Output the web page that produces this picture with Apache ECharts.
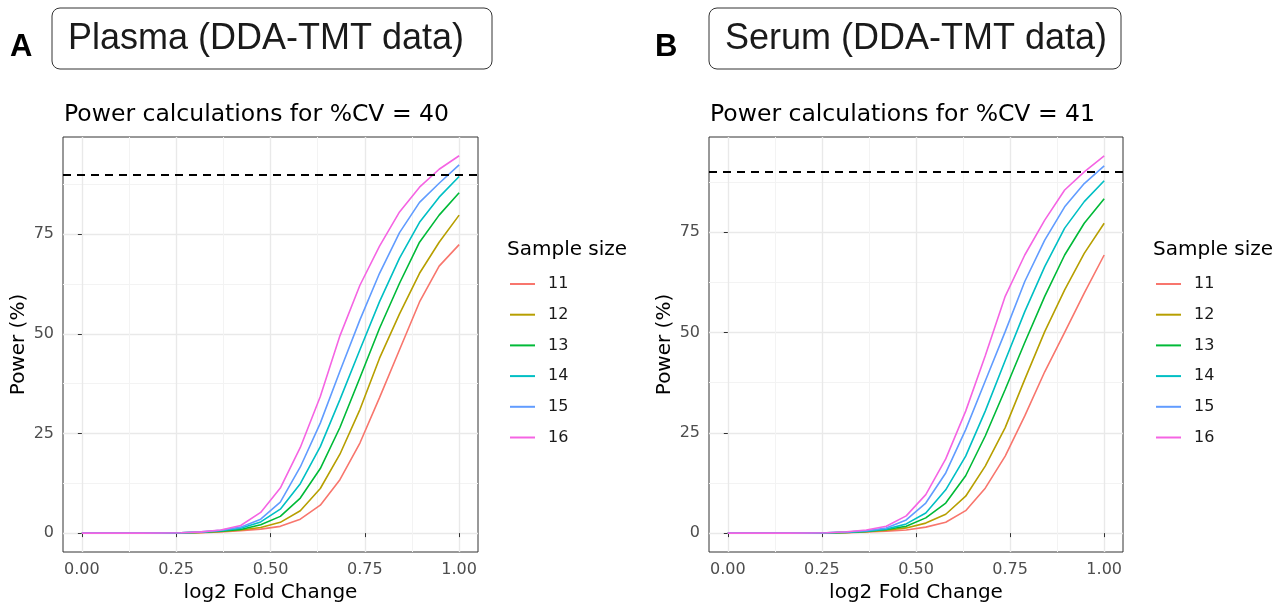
<!DOCTYPE html>
<html>
<head>
<meta charset="utf-8">
<title>Power calculations</title>
<script src="https://cdn.jsdelivr.net/npm/echarts@6/dist/echarts.min.js"></script>
<style>
html, body { margin: 0; padding: 0; background: #fff; }
#main { width: 1282px; height: 603px; }
</style>
</head>
<body>
<div id="main"></div>
<script>
/* log2 fold change values where power was computed */
var foldChange = [0, 0.053, 0.105, 0.158, 0.211, 0.263, 0.316, 0.368, 0.421, 0.474,
                  0.526, 0.579, 0.632, 0.684, 0.737, 0.789, 0.842, 0.895, 0.947, 1.0];
var sampleSizes = ["11", "12", "13", "14", "15", "16"];

/* plasma, %CV = 40 */
var plasma11 = [0, 0, 0, 0, 0, 0.05, 0.1, 0.3, 0.6, 1.0, 1.7, 3.5, 7.0, 13.4, 22.6, 34.0, 46.0, 58.0, 67.0, 72.4];
var plasma12 = [0, 0, 0, 0, 0, 0.05, 0.15, 0.4, 0.8, 1.4, 2.7, 5.6, 11.2, 19.8, 31.0, 43.9, 55.0, 65.2, 73.0, 79.8];
var plasma13 = [0, 0, 0, 0, 0, 0.05, 0.2, 0.5, 0.9, 2.1, 4.2, 8.8, 16.2, 26.5, 39.0, 51.4, 62.7, 73.0, 79.8, 85.4];
var plasma14 = [0, 0, 0, 0, 0.01, 0.1, 0.25, 0.6, 1.2, 2.8, 6.0, 12.4, 21.7, 33.5, 46.0, 58.1, 69.0, 78.0, 84.3, 89.5];
var plasma15 = [0, 0, 0, 0, 0.02, 0.1, 0.3, 0.7, 1.5, 3.5, 7.8, 16.6, 27.6, 40.6, 53.5, 65.2, 75.4, 83.0, 87.8, 92.4];
var plasma16 = [0, 0, 0, 0, 0.02, 0.1, 0.3, 0.8, 1.9, 5.2, 11.3, 21.5, 34.3, 49.5, 62.2, 72.0, 80.6, 86.8, 91.3, 94.7];

/* serum, %CV = 41 */
var serum11 = [0, 0, 0, 0, 0, 0.05, 0.1, 0.3, 0.5, 0.8, 1.5, 2.7, 5.6, 11.2, 19.2, 29.2, 40.2, 50.0, 59.8, 69.3];
var serum12 = [0, 0, 0, 0, 0, 0.05, 0.15, 0.35, 0.7, 1.3, 2.5, 4.7, 9.2, 16.7, 26.3, 38.3, 50.2, 60.6, 69.7, 77.2];
var serum13 = [0, 0, 0, 0, 0, 0.05, 0.2, 0.45, 0.9, 1.7, 3.8, 7.5, 14.3, 24.2, 35.8, 47.5, 59.0, 69.3, 77.2, 83.3];
var serum14 = [0, 0, 0, 0, 0.01, 0.1, 0.25, 0.5, 1.0, 2.3, 5.0, 10.8, 19.2, 30.4, 43.0, 55.2, 66.4, 76.0, 82.6, 87.8];
var serum15 = [0, 0, 0, 0, 0.02, 0.1, 0.3, 0.6, 1.3, 3.3, 7.5, 15.0, 25.8, 37.9, 50.2, 62.7, 73.0, 81.3, 87.1, 91.5];
var serum16 = [0, 0, 0, 0, 0.02, 0.1, 0.35, 0.8, 1.7, 4.3, 9.6, 18.5, 30.4, 44.2, 59.0, 69.3, 78.0, 85.5, 90.0, 94.0];

var xTicks = [0, 0.25, 0.5, 0.75, 1];
var xMinorTicks = [0.125, 0.375, 0.625, 0.875];
var yTicks = [0, 25, 50, 75];
var yMinorTicks = [12.5, 37.5, 62.5, 87.5];
var targetPower = 90;

var colors = ["#F8766D", "#B79F00", "#00BA38", "#00BFC4", "#619CFF", "#F564E3"];
var font = "DejaVu Sans";

function makeXAxis(grid, ticks, major) {
    return {
        type: "value", gridIndex: grid, min: -0.05, max: 1.05, position: "bottom",
        name: major ? "log2 Fold Change" : "",
        nameLocation: "middle", nameGap: 28,
        nameTextStyle: {fontFamily: font, fontSize: 20, color: "#000"},
        axisLine: {show: false},
        axisTick: {show: major, customValues: ticks, length: 4, lineStyle: {color: "#333", width: 1}},
        axisLabel: {show: major, customValues: ticks, margin: 10, color: "#4d4d4d",
            fontFamily: font, fontSize: 16,
            formatter: function (v) { return v.toFixed(2); }},
        splitLine: {show: true, lineStyle: {color: major ? "#e9e9e9" : "#f3f3f3", width: major ? 1.4 : 1}}
    };
}
function makeYAxis(grid, ticks, major, min, max) {
    return {
        type: "value", gridIndex: grid, min: min, max: max, position: "left",
        name: major ? "Power (%)" : "",
        nameLocation: "middle", nameGap: 34,
        nameTextStyle: {fontFamily: font, fontSize: 20, color: "#000"},
        axisLine: {show: false},
        axisTick: {show: major, customValues: ticks, length: 4, lineStyle: {color: "#333", width: 1}},
        axisLabel: {show: major, customValues: ticks, margin: 9, color: "#4d4d4d",
            fontFamily: font, fontSize: 16},
        splitLine: {show: true, lineStyle: {color: major ? "#e9e9e9" : "#f3f3f3", width: major ? 1.4 : 1}}
    };
}
function makeSeries(axisIndex, powers) {
    var list = [];
    for (var s = 0; s < powers.length; s++) {
        var data = [];
        for (var i = 0; i < foldChange.length; i++) {
            data.push([foldChange[i], powers[s][i]]);
        }
        var item = {
            name: sampleSizes[s], type: "line", xAxisIndex: axisIndex, yAxisIndex: axisIndex,
            data: data, symbol: "none", smooth: false,
            lineStyle: {color: colors[s], width: 1.6},
            itemStyle: {color: colors[s]}
        };
        if (s == powers.length - 1) {
            item.markLine = {
                silent: true, symbol: "none", label: {show: false},
                lineStyle: {color: "#000", type: [8, 6], width: 2},
                data: [{yAxis: targetPower}]
            };
        }
        list.push(item);
    }
    return list;
}
function makeLegend(left) {
    return {
        orient: "vertical", left: left, top: 269, icon: "rect", itemWidth: 25, itemHeight: 2, itemGap: 10.7,
        selectedMode: false, data: sampleSizes,
        textStyle: {fontFamily: font, fontSize: 16, lineHeight: 20, color: "#1a1a1a", padding: [0, 0, 0, 8]}
    };
}
function makeBox(x, w, letter, letterX, text) {
    return [
        {type: "rect", shape: {x: x, y: 8, width: w, height: 61, r: 8},
            style: {fill: "#fff", stroke: "#333", lineWidth: 1}},
        {type: "text", x: x + 16, y: 39,
            style: {text: text, font: "36px 'Liberation Sans'", fill: "#1a1a1a", verticalAlign: "middle"}},
        {type: "text", x: letterX, y: 47,
            style: {text: letter, font: "bold 31px 'Liberation Sans'", fill: "#000", verticalAlign: "middle"}}
    ];
}

var chart = echarts.init(document.getElementById("main"), null, {renderer: "canvas"});
var plasmaPower = [plasma11, plasma12, plasma13, plasma14, plasma15, plasma16];
var serumPower = [serum11, serum12, serum13, serum14, serum15, serum16];

var option = {
    animation: false,
    backgroundColor: "#fff",
    textStyle: {fontFamily: font},
    title: [
        {text: "Power calculations for %CV = 40", left: 59, top: 98,
            textStyle: {fontFamily: font, fontSize: 23.5, fontWeight: "normal", color: "#000"}},
        {text: "Power calculations for %CV = 41", left: 705, top: 98,
            textStyle: {fontFamily: font, fontSize: 23.5, fontWeight: "normal", color: "#000"}},
        {text: "Sample size", left: 502, top: 235,
            textStyle: {fontFamily: font, fontSize: 20, fontWeight: "normal", color: "#000"}},
        {text: "Sample size", left: 1148, top: 235,
            textStyle: {fontFamily: font, fontSize: 20, fontWeight: "normal", color: "#000"}}
    ],
    legend: [makeLegend(505), makeLegend(1151)],
    grid: [
        {left: 63, right: 804, top: 137, bottom: 51, outerBoundsMode: "none",
            show: true, borderColor: "#333", borderWidth: 1, backgroundColor: "#fff"},
        {left: 709, right: 159, top: 137, bottom: 51, outerBoundsMode: "none",
            show: true, borderColor: "#333", borderWidth: 1, backgroundColor: "#fff"}
    ],
    xAxis: [
        makeXAxis(0, xTicks, true), makeXAxis(0, xMinorTicks, false),
        makeXAxis(1, xTicks, true), makeXAxis(1, xMinorTicks, false)
    ],
    yAxis: [
        makeYAxis(0, yTicks, true, -4.74, 99.4), makeYAxis(0, yMinorTicks, false, -4.74, 99.4),
        makeYAxis(1, yTicks, true, -4.7, 98.7), makeYAxis(1, yMinorTicks, false, -4.7, 98.7)
    ],
    graphic: makeBox(52, 440, "A", 10, "Plasma (DDA-TMT data)")
        .concat(makeBox(709, 412, "B", 655, "Serum (DDA-TMT data)")),
    series: makeSeries(0, plasmaPower).concat(makeSeries(2, serumPower))
};
chart.setOption(option);
</script>
</body>
</html>
